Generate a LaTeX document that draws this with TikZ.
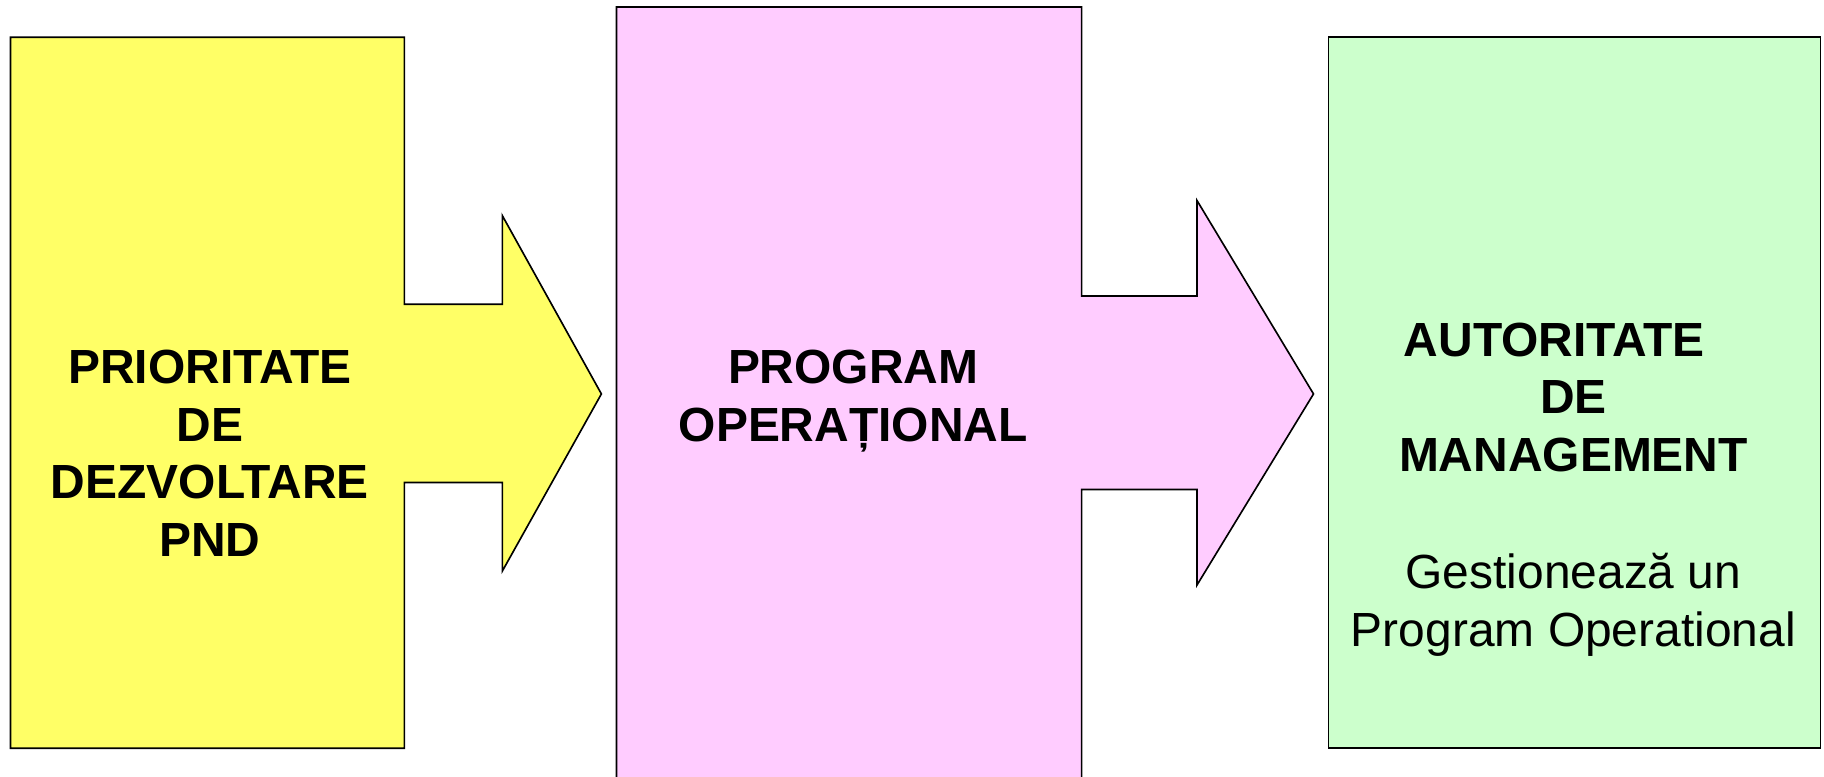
\documentclass[tikz,border=0pt]{standalone}
\usepackage{fontspec}
\setmainfont{Liberation Sans}
\usetikzlibrary{positioning}

\definecolor{prioyellow}{HTML}{FFFF66}
\definecolor{progpink}{HTML}{FFCCFF}
\definecolor{autgreen}{HTML}{CCFFCC}

\tikzset{
  blockshape/.style={draw=black,line width=0.4pt,line join=miter},
  blocktext/.style={align=center,inner sep=0pt,font=\fontsize{11.7}{14.1}\selectfont\bfseries},
  plaintext/.style={align=center,inner sep=0pt,font=\fontsize{11.7}{14.1}\selectfont}
}

\begin{document}
\begin{tikzpicture}[x=0.1mm,y=-0.1mm]
  \useasboundingbox (0,0) rectangle (1565,666);
  \clip (0,0) rectangle (1565,666);
  % yellow block with arrow
  \path[blockshape,fill=prioyellow] (9,32) -- (347,32) -- (347,261) -- (431,261) -- (431,185)
    -- (516,338) -- (431,490) -- (431,414) -- (347,414) -- (347,642) -- (9,642) -- cycle;
  % pink block with arrow
  \path[blockshape,fill=progpink] (529,6) -- (928,6) -- (928,254) -- (1027,254) -- (1027,172)
    -- (1127,338) -- (1027,502) -- (1027,420) -- (928,420) -- (928,690) -- (529,690) -- cycle;
  % green block
  \path[blockshape,fill=autgreen] (1140,32) rectangle (1562,642);
  \node[blocktext] (prio) at (180,389) {PRIORITATE\\DE\\DEZVOLTARE\\PND};
  \node[blocktext] (prog) at (732,344) {PROGRAM\\OPERAȚIONAL};
  \node[blocktext] (aut) at (1350,341) {AUTORITATE\hspace*{0.8em}\\DE\\MANAGEMENT};
  \node[plaintext,below=6.8mm of aut] (gest) {Gestionează un\\Program Operational};
\end{tikzpicture}
\end{document}
